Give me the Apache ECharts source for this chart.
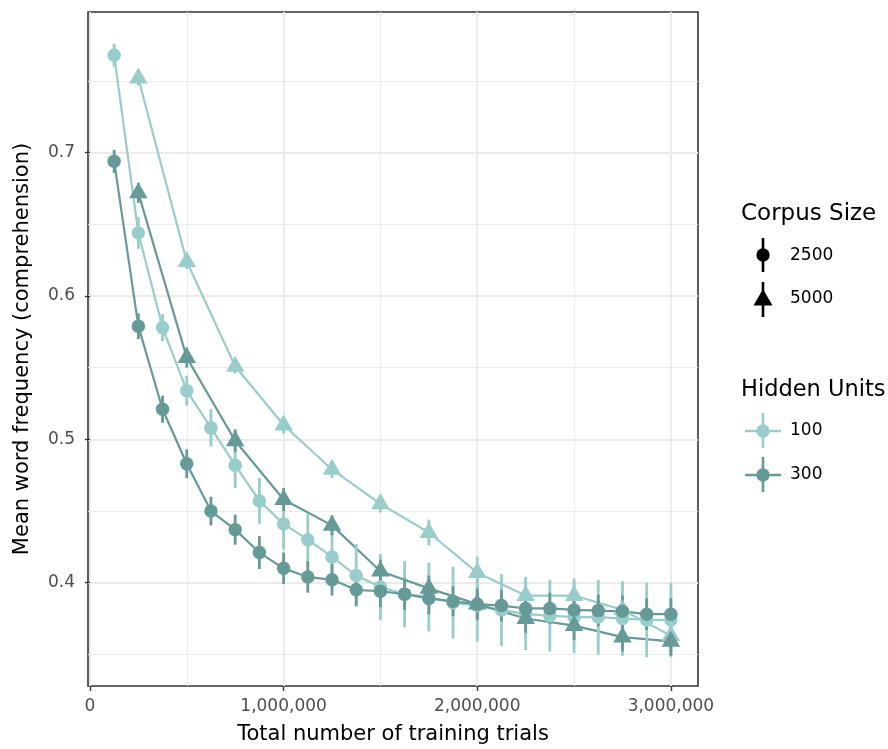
<!DOCTYPE html>
<html>
<head>
<meta charset="utf-8">
<script src="https://cdn.jsdelivr.net/npm/echarts@6/dist/echarts.min.js"></script>
<style>
  html, body { margin: 0; padding: 0; background: #ffffff; }
  #chart { width: 888px; height: 749px; }
</style>
</head>
<body>
<div id="chart"></div>
<script>
// Training checkpoints (total number of training trials)
const trials2500 = [125000, 250000, 375000, 500000, 625000, 750000, 875000, 1000000,
  1125000, 1250000, 1375000, 1500000, 1625000, 1750000, 1875000, 2000000,
  2125000, 2250000, 2375000, 2500000, 2625000, 2750000, 2875000, 3000000];
const trials5000 = [250000, 500000, 750000, 1000000, 1250000, 1500000,
  1750000, 2000000, 2250000, 2500000, 2750000, 3000000];

// Mean word frequency (comprehension) and error half-widths
const h100c2500 = [0.768, 0.644, 0.578, 0.534, 0.508, 0.482, 0.457, 0.441,
  0.430, 0.418, 0.405, 0.397, 0.392, 0.390, 0.386, 0.384,
  0.381, 0.378, 0.377, 0.376, 0.376, 0.375, 0.374, 0.374];
const h100c2500Err = [0.008, 0.011, 0.0095, 0.0105, 0.013, 0.016, 0.016, 0.018,
  0.018, 0.020, 0.022, 0.023, 0.023, 0.024, 0.025, 0.025,
  0.025, 0.025, 0.025, 0.025, 0.026, 0.026, 0.026, 0.026];

const h300c2500 = [0.694, 0.579, 0.521, 0.483, 0.450, 0.437, 0.421, 0.410,
  0.404, 0.402, 0.395, 0.394, 0.392, 0.389, 0.387, 0.385,
  0.384, 0.382, 0.382, 0.381, 0.3805, 0.380, 0.378, 0.378];
const h300c2500Err = [0.008, 0.009, 0.0095, 0.010, 0.010, 0.0105, 0.0115, 0.011,
  0.011, 0.011, 0.011, 0.011, 0.011, 0.011, 0.0105, 0.011,
  0.011, 0.011, 0.011, 0.011, 0.011, 0.011, 0.011, 0.011];

const h100c5000 = [0.752, 0.624, 0.551, 0.510, 0.479, 0.455,
  0.435, 0.407, 0.391, 0.391, 0.381, 0.363];
const h100c5000Err = [0.005, 0.005, 0.005, 0.006, 0.006, 0.006,
  0.009, 0.011, 0.013, 0.012, 0.012, 0.012];

const h300c5000 = [0.672, 0.557, 0.499, 0.458, 0.440, 0.408,
  0.396, 0.385, 0.375, 0.370, 0.362, 0.359];
const h300c5000Err = [0.007, 0.007, 0.008, 0.008, 0.007, 0.008,
  0.009, 0.010, 0.010, 0.010, 0.010, 0.010];

// Axis ticks
const xTicks = [0, 1000000, 2000000, 3000000];
const xMinorTicks = [500000, 1500000, 2500000];
const yTicks = [0.4, 0.5, 0.6, 0.7];
const yMinorTicks = [0.35, 0.45, 0.55, 0.65, 0.75];

const LIGHT = '#98cdcb';
const DARK = '#669a99';
const FONT = 'DejaVu Sans';

const groups = [
  { name: '100 / 2500', x: trials2500, y: h100c2500, err: h100c2500Err, color: LIGHT, symbol: 'circle' },
  { name: '100 / 5000', x: trials5000, y: h100c5000, err: h100c5000Err, color: LIGHT, symbol: 'triangle' },
  { name: '300 / 2500', x: trials2500, y: h300c2500, err: h300c2500Err, color: DARK, symbol: 'circle' },
  { name: '300 / 5000', x: trials5000, y: h300c5000, err: h300c5000Err, color: DARK, symbol: 'triangle' }
];

const pairs = g => g.x.map((v, i) => [v, g.y[i]]);
const ranges = g => g.x.map((v, i) => [v, g.y[i] - g.err[i], g.y[i] + g.err[i]]);

const series = [];
groups.forEach(g => {
  series.push({
    name: g.name, type: 'line', data: pairs(g), showSymbol: false,
    lineStyle: { color: g.color, width: 2.2 }, z: 2, silent: true
  });
});
groups.forEach(g => {
  series.push({
    name: g.name, type: 'custom', data: ranges(g), z: 3,
    encode: { x: 0, y: [1, 2] },
    renderItem: (params, api) => {
      const a = api.coord([api.value(0), api.value(1)]);
      const b = api.coord([api.value(0), api.value(2)]);
      return {
        type: 'line',
        shape: { x1: a[0], y1: a[1], x2: b[0], y2: b[1] },
        style: { stroke: g.color, lineWidth: 2.8 }
      };
    }
  });
});
groups.forEach(g => {
  const tri = g.symbol === 'triangle';
  series.push({
    name: g.name, type: 'scatter', data: pairs(g), z: 4,
    symbol: g.symbol,
    symbolSize: tri ? [18.5, 16] : 13.5,
    symbolOffset: tri ? [0, -2.6] : [0, 0],
    itemStyle: { color: g.color, opacity: 1 }
  });
});

const fmtThousands = v => String(Math.round(v)).replace(/\B(?=(\d{3})+(?!\d))/g, ',');

// Legend keys drawn as graphics
const legendText = (text, x, y, size) => ({
  type: 'text', x: x, y: y,
  style: { text: text, fontFamily: FONT, fontSize: size, fill: '#000', textVerticalAlign: 'middle', textAlign: 'left' }
});
const KX = 763;
const graphic = [
  legendText('Corpus Size', 741, 214, 23),
  { type: 'line', shape: { x1: KX, y1: 238, x2: KX, y2: 272 }, style: { stroke: '#000', lineWidth: 2.6 } },
  { type: 'circle', shape: { cx: KX, cy: 255, r: 6.7 }, style: { fill: '#000' } },
  legendText('2500', 790, 256, 17),
  { type: 'line', shape: { x1: KX, y1: 282, x2: KX, y2: 317 }, style: { stroke: '#000', lineWidth: 2.6 } },
  { type: 'polygon', shape: { points: [[KX, 289], [KX + 9.5, 305.5], [KX - 9.5, 305.5]] }, style: { fill: '#000' } },
  legendText('5000', 790, 299, 17),
  legendText('Hidden Units', 741, 390, 22.5),
  { type: 'line', shape: { x1: 745, y1: 431, x2: 781, y2: 431 }, style: { stroke: LIGHT, lineWidth: 2.4 } },
  { type: 'line', shape: { x1: KX, y1: 413, x2: KX, y2: 448 }, style: { stroke: LIGHT, lineWidth: 2.6 } },
  { type: 'circle', shape: { cx: KX, cy: 431, r: 6.7 }, style: { fill: LIGHT } },
  legendText('100', 790, 431, 17),
  { type: 'line', shape: { x1: 745, y1: 475, x2: 781, y2: 475 }, style: { stroke: DARK, lineWidth: 2.4 } },
  { type: 'line', shape: { x1: KX, y1: 457, x2: KX, y2: 492 }, style: { stroke: DARK, lineWidth: 2.6 } },
  { type: 'circle', shape: { cx: KX, cy: 475, r: 6.7 }, style: { fill: DARK } },
  legendText('300', 790, 475, 17)
];

const chart = echarts.init(document.getElementById('chart'), null, { renderer: 'canvas' });
chart.setOption({
  animation: false,
  backgroundColor: '#ffffff',
  textStyle: { fontFamily: FONT },
  grid: {
    left: 88, right: 190, top: 12, bottom: 63,
    show: true, borderColor: '#333333', borderWidth: 1.6, backgroundColor: 'transparent',
    outerBoundsMode: 'none', containLabel: false
  },
  xAxis: [
    {
      type: 'value', min: -10000, max: 3140000,
      name: 'Total number of training trials', nameLocation: 'middle', nameGap: 38,
      nameTextStyle: { fontFamily: FONT, fontSize: 21, color: '#000' },
      axisLine: { show: false },
      axisTick: { show: true, length: 5, customValues: xTicks, lineStyle: { color: '#333333', width: 1.4 } },
      axisLabel: { customValues: xTicks, margin: 12, fontFamily: FONT, fontSize: 17, color: '#4d4d4d', formatter: fmtThousands },
      splitLine: { show: true, lineStyle: { color: '#ebebeb', width: 2 } }
    },
    {
      type: 'value', min: -10000, max: 3140000, position: 'bottom',
      axisLine: { show: false }, axisLabel: { show: false },
      axisTick: { show: false, customValues: xMinorTicks },
      splitLine: { show: true, lineStyle: { color: '#ebebeb', width: 1 } }
    }
  ],
  yAxis: [
    {
      type: 'value', min: 0.3279, max: 0.7982,
      name: 'Mean word frequency (comprehension)', nameLocation: 'middle', nameGap: 55,
      nameTextStyle: { fontFamily: FONT, fontSize: 21, color: '#000' },
      axisLine: { show: false },
      axisTick: { show: true, length: 5, customValues: yTicks, lineStyle: { color: '#333333', width: 1.4 } },
      axisLabel: { customValues: yTicks, margin: 13, fontFamily: FONT, fontSize: 17, color: '#4d4d4d', formatter: v => v.toFixed(1) },
      splitLine: { show: true, lineStyle: { color: '#ebebeb', width: 2 } }
    },
    {
      type: 'value', min: 0.3279, max: 0.7982, position: 'left',
      axisLine: { show: false }, axisLabel: { show: false },
      axisTick: { show: false, customValues: yMinorTicks },
      splitLine: { show: true, lineStyle: { color: '#ebebeb', width: 1 } }
    }
  ],
  graphic: graphic,
  series: series
});
</script>
</body>
</html>
